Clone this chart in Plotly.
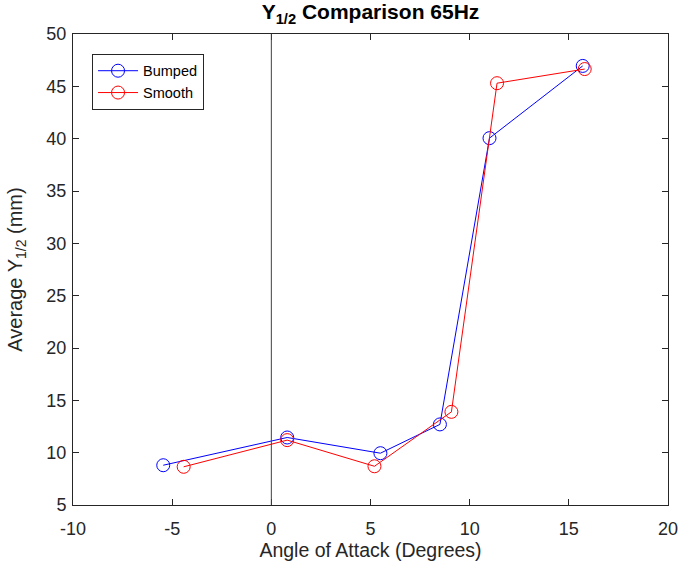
import plotly.graph_objects as go

bumped_x = [-5.45, 0.8, 5.5, 8.5, 11.0, 15.7]
bumped_y = [8.8, 11.45, 9.95, 12.7, 40.05, 46.95]
smooth_x = [-4.42, 0.8, 5.2, 9.08, 11.38, 15.8]
smooth_y = [8.65, 11.2, 8.7, 13.9, 45.3, 46.65]

x_ticks = [-10, -5, 0, 5, 10, 15, 20]
x_tick_labels = ["-10", "-5", "0", "5", "10", "15", "20"]
y_ticks = [5, 10, 15, 20, 25, 30, 35, 40, 45, 50]

font = "Liberation Sans, Arial, sans-serif"

fig = go.Figure()
fig.add_trace(go.Scatter(x=bumped_x, y=bumped_y, mode="lines+markers", name="Bumped",
                         line=dict(color="#0000ff", width=1),
                         marker=dict(symbol="circle-open", size=13, color="#0000ff", line=dict(width=1))))
fig.add_trace(go.Scatter(x=smooth_x, y=smooth_y, mode="lines+markers", name="Smooth",
                         line=dict(color="#ff0000", width=1),
                         marker=dict(symbol="circle-open", size=13, color="#ff0000", line=dict(width=1))))

fig.add_shape(type="line", x0=0, x1=0, y0=0, y1=1, xref="x", yref="paper",
              line=dict(color="#404040", width=1))

axis_common = dict(showgrid=False, zeroline=False, showline=True, linecolor="#262626",
                   linewidth=1, mirror="ticks", ticks="inside", ticklen=6, automargin=False,
                   tickcolor="#262626", tickfont=dict(family=font, size=18, color="#262626"))

fig.update_layout(
    width=681, height=569,
    margin=dict(l=73, r=13, t=34, b=64),
    paper_bgcolor="white", plot_bgcolor="white",
    title=dict(text="<b>Y<sub>1/2</sub> Comparison 65Hz</b>", x=0.5, xanchor="center", xref="paper",
               y=0.992, yanchor="top", font=dict(family=font, size=21, color="black")),
    xaxis=dict(range=[-10, 20], tickvals=x_ticks, ticktext=x_tick_labels, ticklabelstandoff=7,
               title=dict(text="Angle of Attack (Degrees)", font=dict(family=font, size=19.5, color="#262626"),
                          standoff=5), **axis_common),
    yaxis=dict(range=[5, 50], tickvals=y_ticks, ticklabelstandoff=2,
               title=dict(text="Average Y<sub>1/2</sub> (mm)", font=dict(family=font, size=20, color="#262626"),
                          standoff=18), **axis_common),
    legend=dict(x=0.032, y=0.958, xanchor="left", yanchor="top", bgcolor="white",
                bordercolor="#262626", borderwidth=1,
                font=dict(family=font, size=14.5, color="black"), itemwidth=40,
                tracegroupgap=0),
    showlegend=True,
)

fig.write_html("out.html")
